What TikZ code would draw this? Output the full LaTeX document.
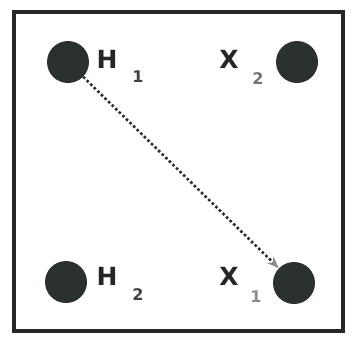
\documentclass[tikz,border=0pt]{standalone}
\usepackage{fontspec}
\setmainfont{DejaVu Sans}
\usetikzlibrary{arrows.meta}
\definecolor{dotc}{HTML}{2B312D}
\tikzset{
  atom/.style={circle,fill=dotc,minimum size=42pt,inner sep=0pt},
  lbl/.style={font=\fontsize{25}{25}\selectfont\bfseries,inner sep=0pt,text=black!85},
  sub/.style={font=\fontsize{16}{16}\selectfont\bfseries,inner sep=0pt,text=black!75}
}
\begin{document}
\begin{tikzpicture}[x=1pt,y=-1pt]
\useasboundingbox (0,0) rectangle (352,349);
\draw[line width=4.5pt,black!85] (14,12) rectangle (343,331);
\node[atom] (h1) at (68,62) {};
\node[atom] (x2) at (297,62) {};
\node[atom] (h2) at (66,282) {};
\node[atom] (x1) at (294,283) {};
\node[lbl] (h1l) at (107,59) {H};
\node[sub] (h1s) at (138,77) {1};
\node[lbl] (x2l) at (229,59) {X};
\node[sub,text=black!55] (x2s) at (258,79) {2};
\node[lbl] (h2l) at (107,276) {H};
\node[sub] (h2s) at (138,295) {2};
\node[lbl] (x1l) at (229,276) {X};
\node[sub,text=black!45] (x1s) at (256,297) {1};
\draw[line width=2.6pt,dotc,dash pattern=on 2.6pt off 2.4pt,-{Stealth[length=12pt,width=9pt,color=black!45]}] (h1) -- (x1);
\end{tikzpicture}
\end{document}
